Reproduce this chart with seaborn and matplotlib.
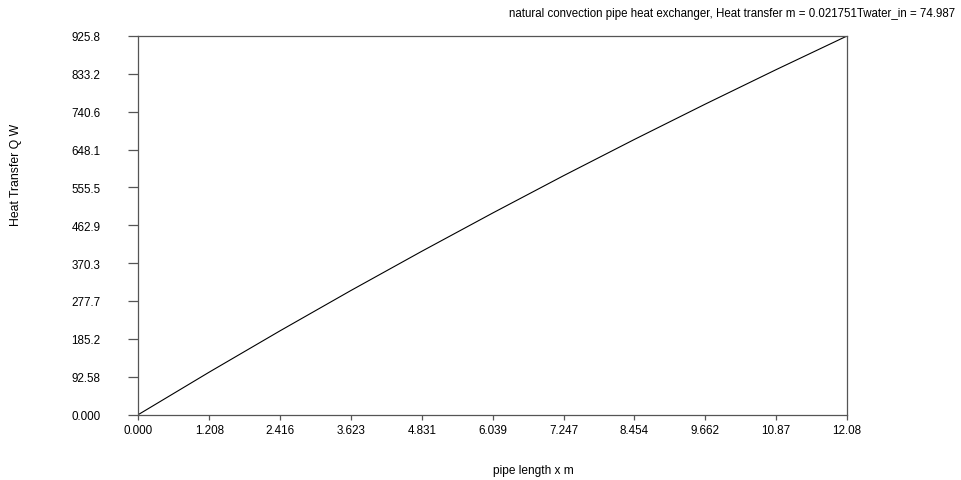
import matplotlib
matplotlib.use("Agg")
import matplotlib.pyplot as plt
import seaborn as sns
import pandas as pd

# Data
pipe_length = [0.0, 1.208, 2.416, 3.623, 4.831, 6.039, 7.247, 8.454, 9.662, 10.87, 12.08]
heat_transfer = [0.0, 103.8, 204.9, 303.4, 399.3, 492.8, 584.1, 672.7, 759.1, 843.4, 925.8]

x_ticks = [0.0, 1.208, 2.416, 3.623, 4.831, 6.039, 7.247, 8.454, 9.662, 10.87, 12.08]
x_tick_labels = ["0.000", "1.208", "2.416", "3.623", "4.831", "6.039", "7.247", "8.454", "9.662", "10.87", "12.08"]
y_ticks = [0.0, 92.58, 185.2, 277.7, 370.3, 462.9, 555.5, 648.1, 740.6, 833.2, 925.8]
y_tick_labels = ["0.000", "92.58", "185.2", "277.7", "370.3", "462.9", "555.5", "648.1", "740.6", "833.2", "925.8"]

title = "natural convection pipe heat exchanger, Heat transfer m = 0.021751Twater_in = 74.987"
x_label = "pipe length x m"
y_label = "Heat Transfer Q W"

sns.set_style("ticks")
plt.rcParams["font.family"] = ["Liberation Sans", "DejaVu Sans"]
plt.rcParams["font.size"] = 8
plt.rcParams["text.color"] = "black"

df = pd.DataFrame({"x": pipe_length, "q": heat_transfer})

W, H = 962, 481
fig = plt.figure(figsize=(W / 100, H / 100), dpi=100)
left, right, top, bottom = 138.5, 847, 37, 415.5
ax = fig.add_axes([left / W, 1 - bottom / H, (right - left) / W, (bottom - top) / H])

sns.lineplot(data=df, x="x", y="q", ax=ax, color="black", linewidth=0.8)

ax.set_xlim(x_ticks[0], x_ticks[-1])
ax.set_ylim(y_ticks[0], y_ticks[-1])
ax.set_xticks(x_ticks)
ax.set_xticklabels(x_tick_labels)
ax.set_yticks(y_ticks)
ax.set_yticklabels(y_tick_labels)
ax.set_xlabel("")
ax.set_ylabel("")

spine_color = "#555555"
for s in ax.spines.values():
    s.set_visible(True)
    s.set_color(spine_color)
    s.set_linewidth(0.9)

ax.tick_params(axis="y", direction="out", length=7.5, width=0.9, color=spine_color,
               pad=20, labelsize=8.4, labelcolor="black")
ax.tick_params(axis="x", direction="out", length=3.8, width=0.9, color=spine_color,
               pad=3, labelsize=8.4, labelcolor="black")

fig.text(955 / W, 1 - 14 / H, title, ha="right", va="center", fontsize=8.3, color="black")
fig.text(492.75 / W, 1 - 471 / H, x_label, ha="left", va="center", fontsize=8.6, color="black")
fig.text(16 / W, 1 - 226 / H, y_label, ha="center", va="bottom", rotation=90, fontsize=8.8, color="black")

fig.savefig("out.png", dpi=100, facecolor="white")
